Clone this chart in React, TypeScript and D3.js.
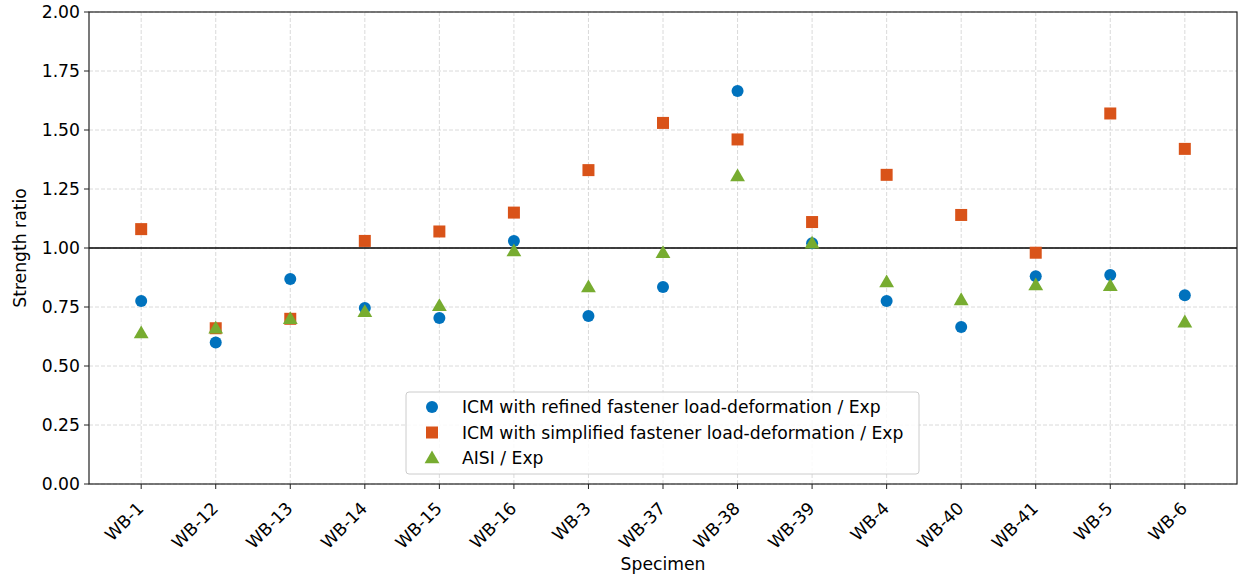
import React from "react";
import * as d3 from "d3";

const specimens = ["WB-1", "WB-12", "WB-13", "WB-14", "WB-15", "WB-16", "WB-3", "WB-37", "WB-38", "WB-39", "WB-4", "WB-40", "WB-41", "WB-5", "WB-6"];
const refined = [0.775, 0.6, 0.869, 0.746, 0.703, 1.03, 0.712, 0.835, 1.665, 1.02, 0.775, 0.665, 0.88, 0.886, 0.8];
const simplified = [1.08, 0.66, 0.7, 1.03, 1.07, 1.15, 1.33, 1.53, 1.46, 1.11, 1.31, 1.14, 0.98, 1.57, 1.42];
const aisi = [0.64, 0.66, 0.7, 0.73, 0.755, 0.987, 0.835, 0.98, 1.305, 1.02, 0.856, 0.78, 0.843, 0.84, 0.686];
const yTicks = [0, 0.25, 0.5, 0.75, 1.0, 1.25, 1.5, 1.75, 2.0];

const W = 1238, H = 577;
const m = { left: 89, right: 1237, top: 12, bottom: 484 };
const font = "DejaVu Sans, sans-serif";
const fs = 17.2;
const blue = "#0072BD", orange = "#D95319", green = "#77AC30";

const tri = d3.symbol(d3.symbolTriangle, 95)();

export default function App() {
  const x = d3.scalePoint<string>().domain(specimens).range([m.left, m.right]).padding(0.7);
  const y = d3.scaleLinear().domain([0, 2]).range([m.bottom, m.top]);

  return (
    <svg width={W} height={H} style={{ position: "absolute", left: 0, top: 0, fontFamily: font }}>
      <rect width={W} height={H} fill="#fff" />
      {/* grid */}
      {specimens.map((s) => (
        <line key={s} x1={x(s)} x2={x(s)} y1={m.top} y2={m.bottom} stroke="#d0d0d0" strokeDasharray="4,2" strokeWidth={0.8} />
      ))}
      {yTicks.map((t) => (
        <line key={t} x1={m.left} x2={m.right} y1={y(t)} y2={y(t)} stroke="#d0d0d0" strokeDasharray="4,2" strokeWidth={0.8} />
      ))}
      {/* reference line */}
      <line x1={m.left} x2={m.right} y1={y(1)} y2={y(1)} stroke="#000" strokeWidth={1.5} />

      {/* series */}
      {refined.map((v, i) => (
        <circle key={"r" + i} cx={x(specimens[i])} cy={y(v)} r={6} fill={blue} />
      ))}
      {simplified.map((v, i) => (
        <rect key={"s" + i} x={x(specimens[i])! - 6} y={y(v) - 6} width={12} height={12} fill={orange} />
      ))}
      {aisi.map((v, i) => (
        <path key={"a" + i} d={tri!} transform={`translate(${x(specimens[i])},${y(v) + 1})`} fill={green} />
      ))}

      {/* frame */}
      <rect x={m.left} y={m.top} width={m.right - m.left} height={m.bottom - m.top} fill="none" stroke="#222" strokeWidth={1.2} />

      {/* y axis */}
      {yTicks.map((t) => (
        <g key={t} transform={`translate(${m.left},${y(t)})`}>
          <line x1={-5} x2={0} stroke="#222" />
          <text x={-9} dy="0.36em" textAnchor="end" fontSize={fs} fill="#000">{d3.format(".2f")(t)}</text>
        </g>
      ))}
      <text transform={`translate(26,${(m.top + m.bottom) / 2}) rotate(-90)`} textAnchor="middle" fontSize={fs}>Strength ratio</text>

      {/* x axis */}
      {specimens.map((s) => (
        <g key={s} transform={`translate(${x(s)},${m.bottom})`}>
          <line y1={0} y2={5} stroke="#222" />
          <text transform="translate(-5,17) rotate(-45)" textAnchor="end" dy="0.7em" fontSize={fs}>{s}</text>
        </g>
      ))}
      <text x={(m.left + m.right) / 2} y={570} textAnchor="middle" fontSize={fs}>Specimen</text>

      {/* legend */}
      <g transform="translate(406,392)">
        <rect x={0} y={0} width={513} height={82} rx={3} fill="#fff" fillOpacity={0.85} stroke="#cccccc" />
        {[
          { label: "ICM with refined fastener load-deformation / Exp", kind: "c" },
          { label: "ICM with simplified fastener load-deformation / Exp", kind: "s" },
          { label: "AISI / Exp", kind: "t" },
        ].map((e, i) => (
          <g key={e.label} transform={`translate(0,${15 + i * 25.5})`}>
            {e.kind === "c" && <circle cx={26} cy={0} r={6} fill={blue} />}
            {e.kind === "s" && <rect x={20} y={-6} width={12} height={12} fill={orange} />}
            {e.kind === "t" && <path d={tri!} transform="translate(26,1)" fill={green} />}
            <text x={56} dy="0.35em" fontSize={fs}>{e.label}</text>
          </g>
        ))}
      </g>
    </svg>
  );
}
